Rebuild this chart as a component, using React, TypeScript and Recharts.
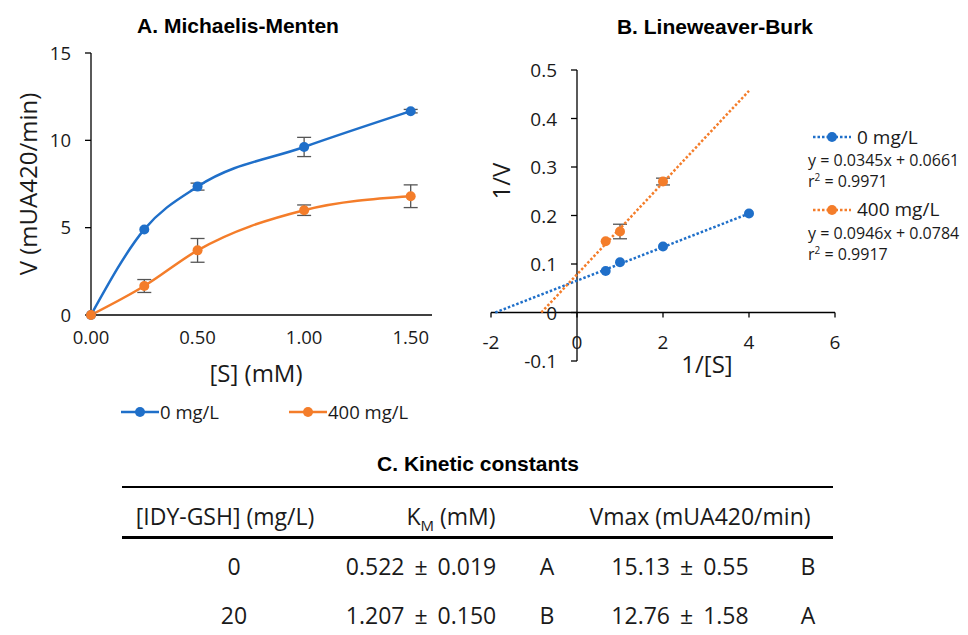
import React from 'react';
import {
  LineChart, Line, XAxis, YAxis, ErrorBar, ScatterChart, Scatter, ReferenceLine,
} from 'recharts';

// Michaelis-Menten data
const substrate = [0, 0.25, 0.5, 1.0, 1.5];
const rate0 = [0, 4.9, 7.35, 9.62, 11.67];
const err0 = [0, 0, 0.2, 0.55, 0.1];
const rate400 = [0, 1.66, 3.7, 6.0, 6.8];
const err400 = [0, 0.37, 0.68, 0.3, 0.65];
const mmXTicks = [0, 0.5, 1.0, 1.5];
const mmYTicks = [0, 5, 10, 15];

// Lineweaver-Burk data
const invS0 = [0.667, 1, 2, 4];
const invV0 = [0.0857, 0.1036, 0.136, 0.204];
const invErr0 = [0, 0, 0, 0];
const invS400 = [0.667, 1, 2];
const invV400 = [0.147, 0.167, 0.27];
const invErr400 = [0, 0.015, 0.007];
const trend0X = [-1.9, 4];
const trend0Y = [0, 0.204];
const trend400X = [-0.83, 4];
const trend400Y = [0, 0.457];
const lbXTicks = [-2, 0, 2, 4, 6];
const lbYTicks = [-0.1, 0, 0.1, 0.2, 0.3, 0.4, 0.5];
const equations = ['y = 0.0345x + 0.0661', 'y = 0.0946x + 0.0784'];
const rSquared = ['0.9971', '0.9917'];
const seriesNames = ['0 mg/L', '400 mg/L'];

// Kinetic constants table
const tableHeaders = ['[IDY-GSH] (mg/L)', 'K', 'Vmax (mUA420/min)'];
const concentrations = ['0', '20'];
const kmMean = [0.522, 1.207];
const kmSd = [0.019, 0.15];
const kmGroup = ['A', 'B'];
const vmaxMean = [15.13, 12.76];
const vmaxSd = [0.55, 1.58];
const vmaxGroup = ['B', 'A'];

const BLUE = '#1f6fc9';
const ORANGE = '#f47d2a';
const TEXT = '#1a1a1a';
const FONT = '"Open Sans", sans-serif';
const TITLE_FONT = '"Liberation Sans", Arial, sans-serif';

const mmData = substrate.map((s, i) => ({
  s, v0: rate0[i], e0: err0[i], v400: rate400[i], e400: err400[i],
}));
const lb0 = invS0.map((x, i) => ({ x, y: invV0[i], err: invErr0[i] }));
const lb400 = invS400.map((x, i) => ({ x, y: invV400[i], err: invErr400[i] }));
const trend0 = trend0X.map((x, i) => ({ x, y: trend0Y[i] }));
const trend400 = trend400X.map((x, i) => ({ x, y: trend400Y[i] }));

// Lineweaver-Burk geometry (axes cross at zero)
const LB_W = 528;
const LB_H = 430;
const LB_M = { top: 70, right: 133, bottom: 39, left: 0 };
const LB_YW = 51;
const LB_XH = 30;
const lbPlotW = LB_W - LB_M.left - LB_M.right - LB_YW;
const lbPlotH = LB_H - LB_M.top - LB_M.bottom - LB_XH;
const zeroX = LB_M.left + LB_YW + (lbPlotW * (0 - lbXTicks[0])) / (lbXTicks[lbXTicks.length - 1] - lbXTicks[0]);
const zeroY = LB_M.top + (lbPlotH * lbYTicks[lbYTicks.length - 1]) / (lbYTicks[lbYTicks.length - 1] - lbYTicks[0]);

const LbXTick = (props: any) => {
  const { x, payload } = props;
  return (
    <g>
      <line x1={x} x2={x} y1={zeroY} y2={zeroY + 5} stroke="#000" strokeWidth={1.3} />
      <text x={x} y={zeroY + 29} textAnchor="middle" dominantBaseline="central" fontSize={19} fill={TEXT} fontFamily={FONT}>
        {payload.value}
      </text>
    </g>
  );
};

const LbYTick = (props: any) => {
  const { y, payload } = props;
  return (
    <g>
      <line x1={zeroX - 6} x2={zeroX} y1={y} y2={y} stroke="#000" strokeWidth={1.3} />
      <text x={zeroX - 20} y={y} textAnchor="end" dominantBaseline="central" fontSize={19} fill={TEXT} fontFamily={FONT}>
        {payload.value}
      </text>
    </g>
  );
};

const NoShape = () => <g />;
const dotShape = (color: string) => (p: any) => <circle cx={p.cx} cy={p.cy} r={5} fill={color} />;

const Title = ({ x, y, children }: { x: number; y: number; children: React.ReactNode }) => (
  <div style={{
    position: 'absolute', left: x - 200, top: y - 13, width: 400, textAlign: 'center',
    fontFamily: TITLE_FONT, fontWeight: 'bold', fontSize: 21, lineHeight: '26px', color: '#000',
  }}>{children}</div>
);

const Swatch = ({ color, dotted }: { color: string; dotted?: boolean }) => (
  <svg width={40} height={14} style={{ display: 'block' }}>
    <line x1={1} x2={39} y1={7} y2={7} stroke={color} strokeWidth={2.5}
      strokeDasharray={dotted ? '2.5 2' : undefined} />
    <circle cx={20} cy={7} r={5} fill={color} />
  </svg>
);

export default function App() {
  return (
    <div style={{ position: 'absolute', left: 0, top: 0, width: 968, height: 635, background: '#fff', color: TEXT, fontFamily: FONT }}>
      <Title x={238} y={26}>A. Michaelis-Menten</Title>
      <Title x={715} y={27}>B. Lineweaver-Burk</Title>

      {/* A. Michaelis-Menten */}
      <div style={{ position: 'absolute', left: 0, top: 0 }}>
        <LineChart width={460} height={430} data={mmData} margin={{ top: 53, right: 28, bottom: 75, left: 0 }}>
          <XAxis
            dataKey="s" type="number" domain={[0, 1.6]} ticks={mmXTicks}
            tickFormatter={(v: number) => v.toFixed(2)} height={40}
            axisLine={{ stroke: '#000', strokeWidth: 1.3 }} tickLine={false} tickMargin={10}
            tick={{ fontSize: 18.5, fill: TEXT, fontFamily: FONT }}
            label={{
              content: () => (
                <text x={256} y={372} textAnchor="middle" dominantBaseline="central" fontSize={24} fill={TEXT} fontFamily={FONT}>[S] (mM)</text>
              ),
            }}
          />
          <YAxis
            type="number" domain={[0, 15]} ticks={mmYTicks} width={91}
            axisLine={{ stroke: '#000', strokeWidth: 1.3 }} tickLine={{ stroke: '#000', strokeWidth: 1.3 }}
            tickSize={6} tickMargin={14}
            tick={{ fontSize: 18.5, fill: TEXT, fontFamily: FONT }}
            label={{
              content: () => (
                <text x={27} y={184} transform="rotate(-90 27 184)" textAnchor="middle" dominantBaseline="central" fontSize={24} fill={TEXT} fontFamily={FONT}>V (mUA420/min)</text>
              ),
            }}
          />
          <Line type="monotone" dataKey="v0" stroke={BLUE} strokeWidth={2.5}
            dot={{ r: 5, fill: BLUE, stroke: BLUE, strokeWidth: 0 }} isAnimationActive={false}>
            <ErrorBar dataKey="e0" direction="y" width={7} stroke="#555" strokeWidth={1.3} />
          </Line>
          <Line type="monotone" dataKey="v400" stroke={ORANGE} strokeWidth={2.5}
            dot={{ r: 5, fill: ORANGE, stroke: ORANGE, strokeWidth: 0 }} isAnimationActive={false}>
            <ErrorBar dataKey="e400" direction="y" width={7} stroke="#555" strokeWidth={1.3} />
          </Line>
        </LineChart>
      </div>

      {/* A legend */}
      <div style={{ position: 'absolute', left: 120, top: 399, display: 'flex', alignItems: 'center', fontSize: 18.5, lineHeight: '26px' }}>
        <Swatch color={BLUE} />
        <span>{seriesNames[0]}</span>
        <span style={{ width: 69 }} />
        <Swatch color={ORANGE} />
        <span>{seriesNames[1]}</span>
      </div>

      {/* B. Lineweaver-Burk */}
      <div style={{ position: 'absolute', left: 440, top: 0 }}>
        <ScatterChart width={LB_W} height={LB_H} margin={LB_M}>
          <XAxis
            dataKey="x" type="number" domain={[-2, 6]} ticks={lbXTicks} height={LB_XH}
            axisLine={false} tickLine={false} tick={<LbXTick />} interval={0}
            label={{
              content: () => (
                <text x={267} y={363} textAnchor="middle" dominantBaseline="central" fontSize={24} fill={TEXT} fontFamily={FONT}>1/[S]</text>
              ),
            }}
          />
          <YAxis
            dataKey="y" type="number" domain={[-0.1, 0.5]} ticks={lbYTicks} width={LB_YW}
            axisLine={false} tickLine={false} tick={<LbYTick />} interval={0}
            label={{
              content: () => (
                <text x={60} y={181} transform="rotate(-90 60 181)" textAnchor="middle" dominantBaseline="central" fontSize={24} fill={TEXT} fontFamily={FONT}>1/V</text>
              ),
            }}
          />
          <ReferenceLine x={0} stroke="#000" strokeWidth={1.3} ifOverflow="extendDomain" />
          <ReferenceLine y={0} stroke="#000" strokeWidth={1.3} ifOverflow="extendDomain" />
          <Scatter data={trend0} line={{ stroke: BLUE, strokeWidth: 2.5, strokeDasharray: '2.5 2' }} shape={NoShape} isAnimationActive={false} />
          <Scatter data={trend400} line={{ stroke: ORANGE, strokeWidth: 2.5, strokeDasharray: '2.5 2' }} shape={NoShape} isAnimationActive={false} />
          <Scatter data={lb0} shape={dotShape(BLUE)} isAnimationActive={false}>
            <ErrorBar dataKey="err" direction="y" width={7} stroke="#555" strokeWidth={1.3} />
          </Scatter>
          <Scatter data={lb400} shape={dotShape(ORANGE)} isAnimationActive={false}>
            <ErrorBar dataKey="err" direction="y" width={7} stroke="#555" strokeWidth={1.3} />
          </Scatter>
        </ScatterChart>
      </div>

      {/* B legend with trendline equations */}
      {[0, 1].map((i) => (
        <div key={i} style={{ position: 'absolute', left: 808, top: 124 + i * 72.5, fontSize: 16, lineHeight: '21px', whiteSpace: 'nowrap' }}>
          <div style={{ display: 'flex', alignItems: 'center', fontSize: 19, height: 26, marginLeft: 4 }}>
            <Swatch color={i === 0 ? BLUE : ORANGE} dotted />
            <span style={{ marginLeft: 5 }}>{seriesNames[i]}</span>
          </div>
          <div>{equations[i]}</div>
          <div>r<sup style={{ fontSize: 10, lineHeight: 0 }}>2</sup> = {rSquared[i]}</div>
        </div>
      ))}

      {/* C. Kinetic constants */}
      <Title x={478} y={464}>C. Kinetic constants</Title>
      <div style={{ position: 'absolute', left: 122, top: 486, width: 711, height: 0, borderTop: '2px solid #000' }} />
      <div style={{ position: 'absolute', left: 122, top: 536, width: 711, height: 0, borderTop: '3.5px solid #000' }} />
      <div style={{ position: 'absolute', left: 0, top: 0, width: 968, fontSize: 23, lineHeight: '30px', whiteSpace: 'nowrap' }}>
        <div style={{ position: 'absolute', left: 105, top: 501, width: 240, textAlign: 'center' }}>{tableHeaders[0]}</div>
        <div style={{ position: 'absolute', left: 351, top: 501, width: 200, textAlign: 'center' }}>
          {tableHeaders[1]}<sub style={{ fontSize: 15, lineHeight: 0 }}>M</sub> (mM)
        </div>
        <div style={{ position: 'absolute', left: 570, top: 501, width: 260, textAlign: 'center' }}>{tableHeaders[2]}</div>
        {concentrations.map((c, i) => {
          const top = 551 + i * 49;
          return (
            <React.Fragment key={c}>
              <div style={{ position: 'absolute', left: 184, top, width: 100, textAlign: 'center' }}>{c}</div>
              <div style={{ position: 'absolute', left: 321, top, width: 200, textAlign: 'center', wordSpacing: 4 }}>
                {kmMean[i].toFixed(3)} ± {kmSd[i].toFixed(3)}
              </div>
              <div style={{ position: 'absolute', left: 527, top, width: 40, textAlign: 'center' }}>{kmGroup[i]}</div>
              <div style={{ position: 'absolute', left: 580, top, width: 200, textAlign: 'center', wordSpacing: 4 }}>
                {vmaxMean[i].toFixed(2)} ± {vmaxSd[i].toFixed(2)}
              </div>
              <div style={{ position: 'absolute', left: 788, top, width: 40, textAlign: 'center' }}>{vmaxGroup[i]}</div>
            </React.Fragment>
          );
        })}
      </div>
    </div>
  );
}
